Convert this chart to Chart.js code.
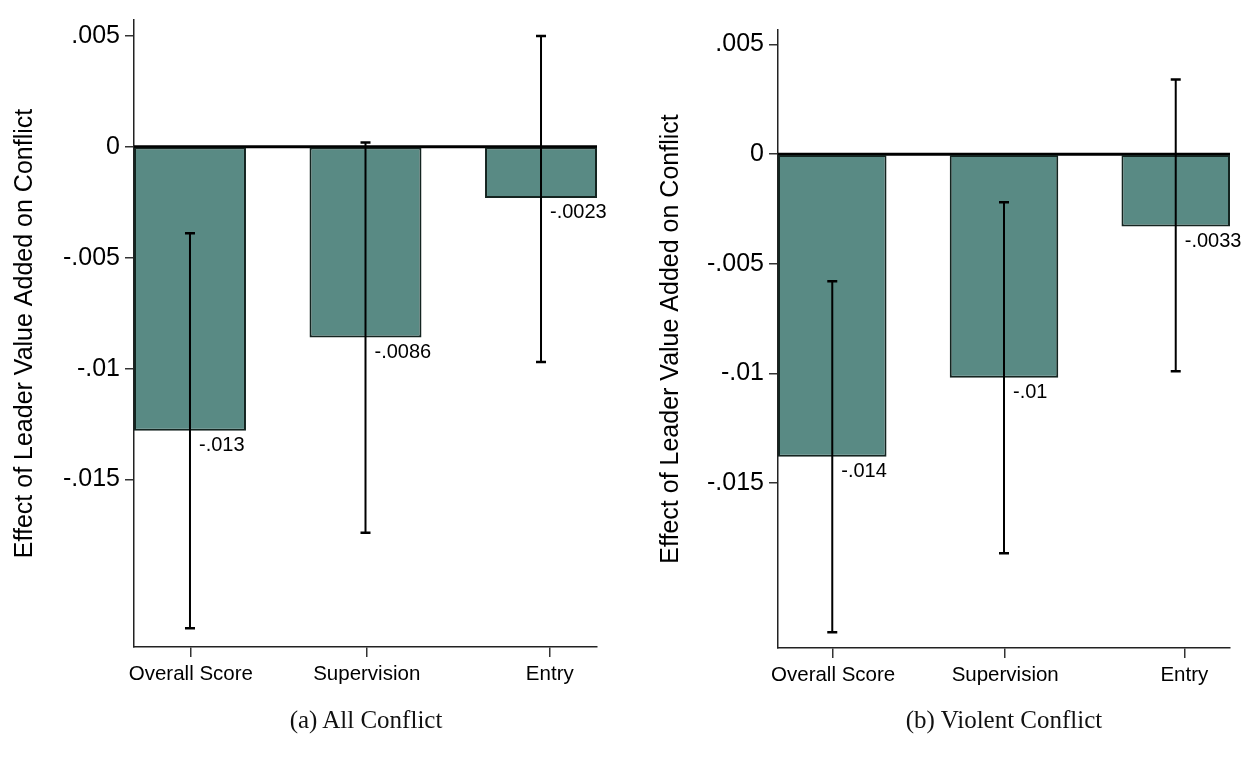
<!DOCTYPE html>
<html>
<head>
<meta charset="utf-8">
<script src="https://cdn.jsdelivr.net/npm/chart.js@4/dist/chart.umd.min.js"></script>
<style>
  body { margin: 0; background: #fff; width: 1241px; height: 759px; position: relative; overflow: hidden; }
  canvas { position: absolute; top: 0; }
  .caption { position: absolute; top: 705px; font-family: "Liberation Serif", serif; font-size: 25px; line-height: 29px;
             color: #111; transform: translateX(-50%); white-space: nowrap; }
</style>
</head>
<body>
<canvas id="all" width="620" height="759" style="left:0"></canvas>
<canvas id="violent" width="621" height="759" style="left:620px"></canvas>
<div class="caption" style="left:366px">(a) All Conflict</div>
<div class="caption" style="left:1004px">(b) Violent Conflict</div>
<script>
const categories = ["Overall Score", "Supervision", "Entry"];

// (a) all conflict: point estimate and confidence interval ends
const allEffect = [-0.0128, -0.0086, -0.0023];
const allLow    = [-0.0217, -0.0174, -0.0097];
const allHigh   = [-0.0039,  0.0002,  0.0050];

// (b) violent conflict
const violentEffect = [-0.0138, -0.0102, -0.0033];
const violentLow    = [-0.0218, -0.0182, -0.0099];
const violentHigh   = [-0.0058, -0.0022,  0.0034];

const yTicks = [0.005, 0, -0.005, -0.01, -0.015];
const xTickPos = [0.005, 1.007, 2.05];   // stata puts the last label a bit right of its bar

Chart.defaults.font.family = '"Liberation Sans", Arial, sans-serif';
Chart.defaults.color = '#000';

// stata style numbers: -.013 instead of -0.013
function stataNum(v) {
  if (v === 0) return '0';
  return String(v).replace('0.', '.');
}

const extras = {
  id: 'extras',
  beforeDatasetsDraw(chart) {
    const {ctx, chartArea: a, scales: {y}} = chart;
    const y0 = y.getPixelForValue(0);
    ctx.save();
    ctx.strokeStyle = '#000';
    ctx.lineWidth = 3;
    ctx.beginPath();
    ctx.moveTo(a.left, y0);
    ctx.lineTo(a.right, y0);
    ctx.stroke();
    ctx.restore();
  },
  afterDatasetsDraw(chart, args, opts) {
    const {ctx, scales: {y}} = chart;
    ctx.save();
    ctx.strokeStyle = '#000';
    ctx.fillStyle = '#000';
    chart.getDatasetMeta(0).data.forEach((bar, i) => {
      const px = bar.x;
      const top = y.getPixelForValue(opts.high[i]);
      const bot = y.getPixelForValue(opts.low[i]);
      ctx.lineWidth = 2;
      ctx.beginPath();
      ctx.moveTo(px, top);
      ctx.lineTo(px, bot);
      ctx.stroke();
      ctx.lineWidth = 2.5;
      ctx.beginPath();
      ctx.moveTo(px - 5, top); ctx.lineTo(px + 5, top);
      ctx.moveTo(px - 5, bot); ctx.lineTo(px + 5, bot);
      ctx.stroke();

      const v = opts.values[i];
      ctx.font = '20px "Liberation Sans"';
      ctx.textAlign = 'left';
      ctx.textBaseline = 'top';
      ctx.fillText(stataNum(parseFloat(v.toPrecision(2))), px + 9, bar.y + 5);
    });
    ctx.restore();
  }
};

function makeChart(id, values, low, high, box) {
  return new Chart(id, {
    type: 'bar',
    data: {
      datasets: [{
        data: categories.map((c, i) => ({x: i, y: values[i]})),
        backgroundColor: '#598a84',
        borderColor: '#142420',
        borderWidth: 2,
        borderSkipped: false,
        barPercentage: 1,
        categoryPercentage: box.barShare
      }]
    },
    options: {
      responsive: false,
      animation: false,
      layout: { padding: { top: box.top, right: box.right, bottom: 0, left: 0 } },
      plugins: {
        legend: { display: false },
        tooltip: { enabled: false },
        extras: { values: values, low: low, high: high }
      },
      scales: {
        x: {
          type: 'linear',
          offset: false,
          min: -box.xPad,
          max: 2 + box.xPad,
          afterBuildTicks: s => { s.ticks = xTickPos.map(v => ({value: v})); },
          afterFit: s => { s.height = box.xAxisH; },
          grid: { offset: false, drawOnChartArea: false, tickLength: 10, color: '#333', lineWidth: 1.5 },
          border: { display: true, color: '#222', width: 1.5 },
          ticks: { callback: (v, i) => categories[i], font: { size: 20.5 }, padding: 5, maxRotation: 0, autoSkip: false }
        },
        y: {
          min: box.yMin,
          max: box.yMax,
          afterBuildTicks: s => { s.ticks = yTicks.map(v => ({value: v})); },
          afterFit: s => { s.width = box.yAxisW; },
          grid: { drawOnChartArea: false, tickLength: 9, color: '#333', lineWidth: 1.5 },
          border: { display: true, color: '#222', width: 1.5 },
          ticks: { callback: v => stataNum(v), font: { size: 25 }, padding: 5 },
          title: {
            display: true,
            text: 'Effect of Leader Value Added on Conflict',
            font: { size: 25 },
            padding: { top: box.titlePad, bottom: 0 }
          }
        }
      }
    },
    plugins: [extras]
  });
}

makeChart('all', allEffect, allLow, allHigh,
  { top: 13, right: 23, xAxisH: 112, yAxisW: 134, yMin: -0.02255, yMax: 0.00572,
    xPad: 0.319, barShare: 0.638, titlePad: 10 });

makeChart('violent', violentEffect, violentLow, violentHigh,
  { top: 30, right: 11, xAxisH: 111, yAxisW: 158, yMin: -0.02252, yMax: 0.00566,
    xPad: 0.316, barShare: 0.632, titlePad: 36 });
</script>
</body>
</html>
